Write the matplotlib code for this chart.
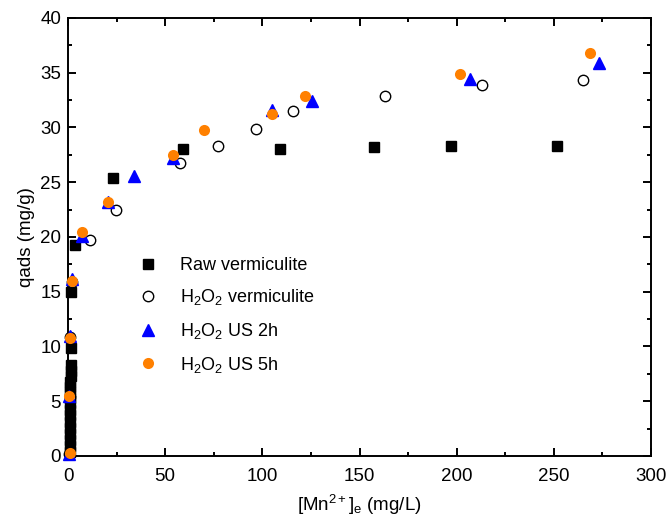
import matplotlib.pyplot as plt
from matplotlib.ticker import MultipleLocator

plt.rcParams['font.family'] = ['Liberation Sans', 'DejaVu Sans']
plt.rcParams['mathtext.fontset'] = 'custom'
plt.rcParams['mathtext.rm'] = 'Liberation Sans'
plt.rcParams['mathtext.it'] = 'Liberation Sans'

# equilibrium concentration (mg/L) and adsorbed amount (mg/g)
raw_x = [0.8, 0.8, 0.9, 0.9, 1.0, 1.0, 1.0, 1.1, 1.1, 1.1, 1.2, 1.2, 1.2, 1.3, 1.3, 1.4,
         1.5, 1.6, 3.7, 22.9, 59.2, 108.9, 157.6, 197.3, 251.4]
raw_y = [0.4, 0.9, 1.5, 2.0, 2.6, 3.1, 3.7, 4.2, 4.8, 5.3, 5.8, 6.3, 6.8, 7.3, 7.8, 8.3,
         9.9, 15.0, 19.3, 25.4, 28.0, 28.0, 28.2, 28.3, 28.3]

h2o2_x = [0.5, 0.8, 1.0, 2.0, 11.1, 24.5, 57.5, 77.2, 96.5, 115.7, 163.1, 212.8, 265.2]
h2o2_y = [0.2, 5.4, 10.9, 15.9, 19.7, 22.5, 26.8, 28.3, 29.9, 31.5, 32.9, 33.9, 34.3]

us2_x = [0.5, 0.6, 0.9, 2.0, 7.1, 20.5, 33.8, 54.0, 104.9, 125.7, 206.8, 273.1]
us2_y = [0.2, 5.5, 11.0, 16.2, 20.1, 23.2, 25.6, 27.2, 31.6, 32.4, 34.4, 35.9]

us5_x = [0.8, 0.4, 0.8, 2.3, 7.1, 20.4, 54.0, 70.0, 104.9, 121.8, 201.8, 268.6]
us5_y = [0.3, 5.5, 10.8, 16.0, 20.5, 23.2, 27.5, 29.8, 31.2, 32.9, 34.9, 36.8]

fig = plt.figure(figsize=(6.68, 5.21), dpi=100)
ax = fig.add_axes([0.1018, 0.1248, 0.8728, 0.8407])

ax.plot(raw_x, raw_y, 's', color='black', ms=6.8, clip_on=False, zorder=3,
        label='Raw vermiculite')
ax.plot(h2o2_x, h2o2_y, 'o', mfc='white', mec='black', mew=1.0, ms=7.5,
        clip_on=False, zorder=3, label='H$_2$O$_2$ vermiculite')
ax.plot(us2_x, us2_y, '^', color='blue', ms=8.5, clip_on=False, zorder=4,
        label='H$_2$O$_2$ US 2h')
ax.plot(us5_x, us5_y, 'o', color='#ff8000', mec='none', ms=8, clip_on=False,
        zorder=5, label='H$_2$O$_2$ US 5h')

ax.set_xlim(0, 300)
ax.set_ylim(0, 40)
ax.xaxis.set_major_locator(MultipleLocator(50))
ax.xaxis.set_minor_locator(MultipleLocator(25))
ax.yaxis.set_major_locator(MultipleLocator(5))
ax.yaxis.set_minor_locator(MultipleLocator(2.5))
ax.tick_params(which='both', direction='in', top=True, right=True, width=1.4,
               labelsize=13.5)
ax.tick_params(which='major', length=5.5, pad=5)
ax.tick_params(axis='x', which='major', pad=9)
ax.tick_params(which='minor', length=3)
for s in ax.spines.values():
    s.set_linewidth(1.4)

ax.set_xlabel('[Mn$^{2+}$]$_e$ (mg/L)', fontsize=13.5, labelpad=5)
ax.set_ylabel('qads (mg/g)', fontsize=13.5, labelpad=4)

ax.legend(loc='upper left', bbox_to_anchor=(0.09, 0.475), frameon=False,
          fontsize=13, handletextpad=0.8, labelspacing=0.75, borderpad=0)

fig.savefig('out.png', dpi=100)
